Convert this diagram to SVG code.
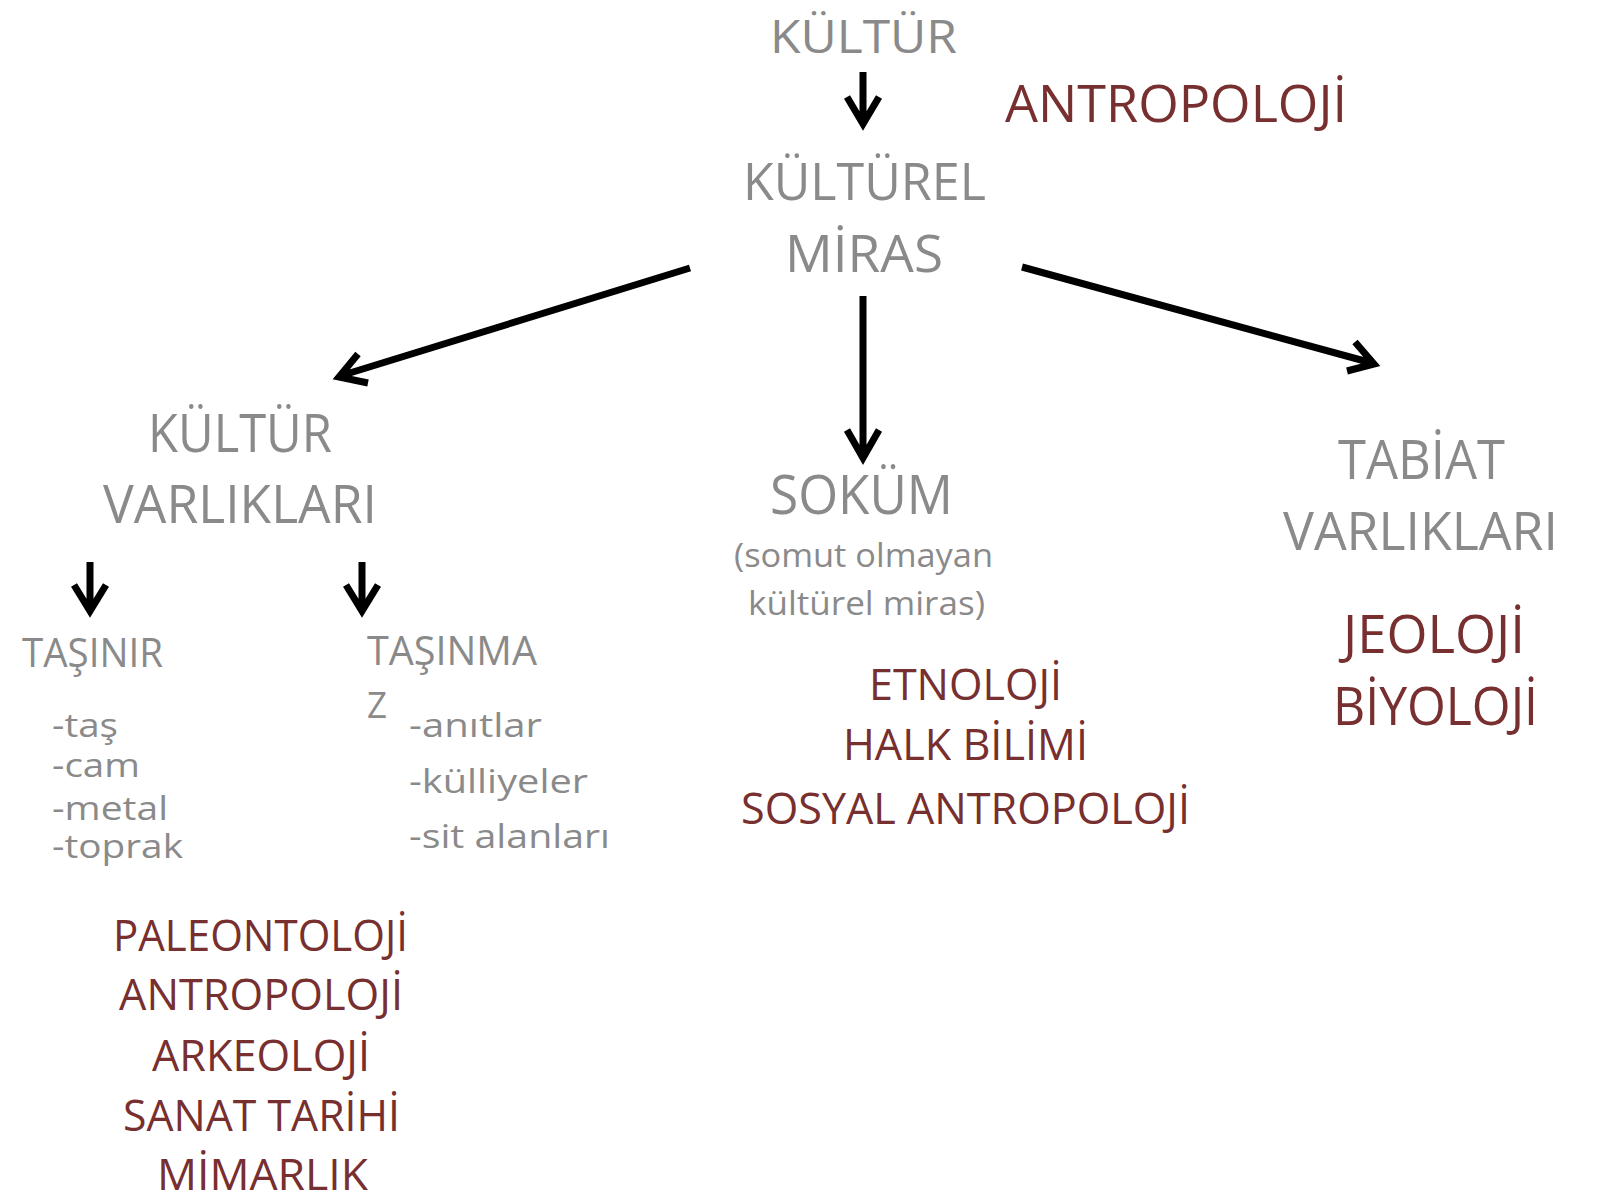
<svg xmlns="http://www.w3.org/2000/svg" width="1602" height="1195" viewBox="0 0 1602 1195">
<style>
text{font-family:"Open Sans","Noto Sans","Liberation Sans",sans-serif;}
.g{fill:#8a8a8a;}
.r{fill:#772f2f;}
.s{font-size:33px;}
.arr{fill:none;stroke:#000;stroke-width:7;stroke-linecap:butt;stroke-linejoin:miter;}
</style>
<rect width="1602" height="1195" fill="#fff"/>
<g id="connectors">
<path class="arr" d="M863,72 L863,124 M847,97 L863,124 L879,97"/>
<path class="arr" d="M690,268 L340,376 M358,354 L339,377 L368,383"/>
<path class="arr" d="M863,296 L863,458 M847,430 L863,458 L879,430"/>
<path class="arr" d="M1022,267 L1372,363 M1355,342 L1374,364 L1347,371"/>
<path class="arr" d="M90,562 L90,611 M74,585 L90,611 L106,585"/>
<path class="arr" d="M362,562 L362,611 M346,585 L362,611 L378,585"/>
</g>
<g id="kultur">
<text class="g" x="770" y="53" font-size="45" textLength="187" lengthAdjust="spacingAndGlyphs">KÜLTÜR</text>
</g>
<g id="antropoloji-top">
<text class="r" x="1005" y="122" font-size="52" textLength="342" lengthAdjust="spacingAndGlyphs">ANTROPOLOJİ</text>
</g>
<g id="kulturel-miras">
<text class="g" x="743" y="200" font-size="52" textLength="243" lengthAdjust="spacingAndGlyphs">KÜLTÜREL</text>
<text class="g" x="785" y="272" font-size="52" textLength="158" lengthAdjust="spacingAndGlyphs">MİRAS</text>
</g>
<g id="kultur-varliklari">
<text class="g" x="148" y="452" font-size="53" textLength="184" lengthAdjust="spacingAndGlyphs">KÜLTÜR</text>
<text class="g" x="103" y="523" font-size="53" textLength="274" lengthAdjust="spacingAndGlyphs">VARLIKLARI</text>
</g>
<g id="sokum">
<text class="g" x="770" y="514" font-size="54" textLength="183" lengthAdjust="spacingAndGlyphs">SOKÜM</text>
<text class="g" x="734" y="567" font-size="32" textLength="259" lengthAdjust="spacingAndGlyphs">(somut olmayan</text>
<text class="g" x="748" y="615" font-size="32" textLength="237" lengthAdjust="spacingAndGlyphs">kültürel miras)</text>
</g>
<g id="tabiat-varliklari">
<text class="g" x="1338" y="479" font-size="54" textLength="167" lengthAdjust="spacingAndGlyphs">TABİAT</text>
<text class="g" x="1283" y="550" font-size="53" textLength="275" lengthAdjust="spacingAndGlyphs">VARLIKLARI</text>
</g>
<g id="tasinir">
<text class="g" x="22" y="667" font-size="40" textLength="141" lengthAdjust="spacingAndGlyphs">TAŞINIR</text>
<text class="g s" x="52" y="737" textLength="66" lengthAdjust="spacingAndGlyphs">-taş</text>
<text class="g s" x="52" y="777" textLength="88" lengthAdjust="spacingAndGlyphs">-cam</text>
<text class="g s" x="52" y="820" textLength="116" lengthAdjust="spacingAndGlyphs">-metal</text>
<text class="g s" x="52" y="858" textLength="131" lengthAdjust="spacingAndGlyphs">-toprak</text>
</g>
<g id="tasinmaz">
<text class="g" x="367" y="665" font-size="40" textLength="170" lengthAdjust="spacingAndGlyphs">TAŞINMA</text>
<text class="g" x="367" y="718" font-size="37" textLength="20" lengthAdjust="spacingAndGlyphs">Z</text>
<text class="g s" x="409" y="737" textLength="133" lengthAdjust="spacingAndGlyphs">-anıtlar</text>
<text class="g s" x="409" y="793" textLength="179" lengthAdjust="spacingAndGlyphs">-külliyeler</text>
<text class="g s" x="409" y="848" textLength="201" lengthAdjust="spacingAndGlyphs">-sit alanları</text>
</g>
<g id="sokum-bilimler">
<text class="r" x="869" y="700" font-size="43" textLength="193" lengthAdjust="spacingAndGlyphs">ETNOLOJİ</text>
<text class="r" x="843" y="760" font-size="43" textLength="245" lengthAdjust="spacingAndGlyphs">HALK BİLİMİ</text>
<text class="r" x="741" y="824" font-size="43" textLength="449" lengthAdjust="spacingAndGlyphs">SOSYAL ANTROPOLOJİ</text>
</g>
<g id="tabiat-bilimler">
<text class="r" x="1343" y="653" font-size="53" textLength="182" lengthAdjust="spacingAndGlyphs">JEOLOJİ</text>
<text class="r" x="1333" y="725" font-size="53" textLength="205" lengthAdjust="spacingAndGlyphs">BİYOLOJİ</text>
</g>
<g id="kultur-bilimler">
<text class="r" x="113" y="951" font-size="43" textLength="295" lengthAdjust="spacingAndGlyphs">PALEONTOLOJİ</text>
<text class="r" x="119" y="1010" font-size="43" textLength="284" lengthAdjust="spacingAndGlyphs">ANTROPOLOJİ</text>
<text class="r" x="152" y="1071" font-size="43" textLength="218" lengthAdjust="spacingAndGlyphs">ARKEOLOJİ</text>
<text class="r" x="123" y="1131" font-size="43" textLength="277" lengthAdjust="spacingAndGlyphs">SANAT TARİHİ</text>
<text class="r" x="157" y="1190" font-size="43" textLength="211" lengthAdjust="spacingAndGlyphs">MİMARLIK</text>
</g>
</svg>
